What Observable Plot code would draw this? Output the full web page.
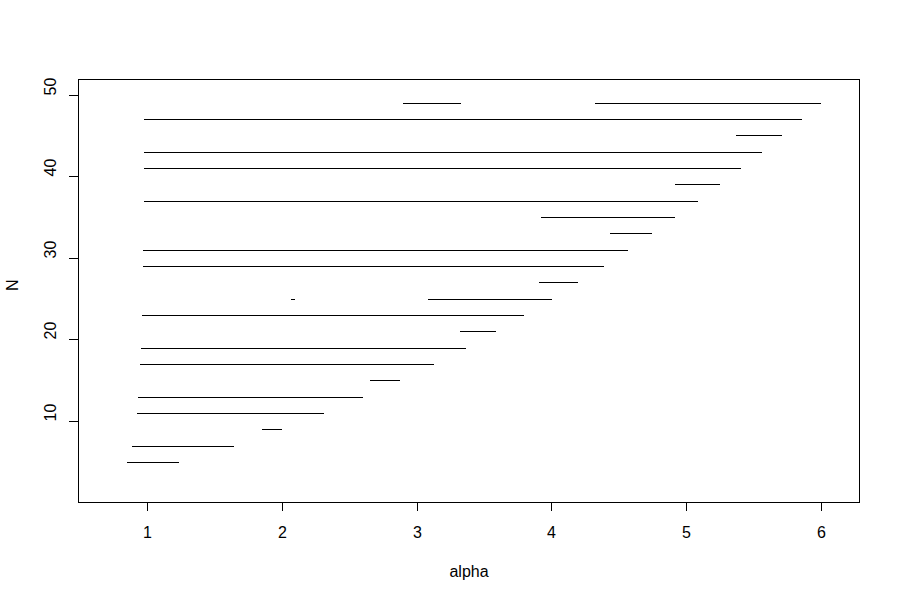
<!DOCTYPE html>
<html>
<head>
<meta charset="utf-8">
<script src="https://cdn.jsdelivr.net/npm/d3@7"></script>
<script src="https://cdn.jsdelivr.net/npm/@observablehq/plot@0.6"></script>
<style>
  html, body { margin: 0; padding: 0; background: #fff; }
  #chart svg { display: block; }
</style>
</head>
<body>
<div id="chart"></div>
<script>
// Segment data
const N          = [5, 7, 9, 11, 13, 15, 17, 19, 21, 23, 25, 25, 27, 29, 31, 33, 35, 37, 39, 41, 43, 45, 47, 49, 49];
const alphaStart = [0.845, 0.883, 1.851, 0.920, 0.927, 2.651, 0.942, 0.950, 3.322, 0.957, 2.064, 3.082, 3.906, 0.964, 0.964, 4.434, 3.921, 0.974, 4.917, 0.974, 0.974, 5.370, 0.974, 2.896, 4.325];
const alphaEnd   = [1.237, 1.646, 2.002, 2.314, 2.604, 2.874, 3.126, 3.364, 3.585, 3.793, 2.094, 4.003, 4.196, 4.388, 4.565, 4.746, 4.919, 5.088, 5.251, 5.407, 5.563, 5.712, 5.858, 3.327, 6.001];

const xTicks = [1, 2, 3, 4, 5, 6];
const yTicks = [10, 20, 30, 40, 50];
const xLabel = "alpha";
const yLabel = "N";

const segs = N.map((n, i) => ({N: n, a0: alphaStart[i], a1: alphaEnd[i]}));

const font = "Liberation Sans, Arial, sans-serif";

const chart = Plot.plot({
  width: 900,
  height: 600,
  marginLeft: 78,
  marginRight: 41,
  marginTop: 79,
  marginBottom: 98,
  style: {fontFamily: font, fontSize: "16px", background: "white", color: "black"},
  x: {domain: [0.484, 6.284], round: true},
  y: {domain: [0.08, 51.92], round: true},
  marks: [
    Plot.ruleY(segs, {y: "N", x1: "a0", x2: "a1", stroke: "black", strokeWidth: 1}),
    Plot.frame({stroke: "black", strokeWidth: 1}),
    Plot.axisX({ticks: xTicks, tickSize: 9, tickPadding: 15, label: null, fontSize: 16, tickFormat: d => String(d)}),
    Plot.axisY({ticks: yTicks, tickSize: 9, label: null, tickFormat: () => ""}),
    Plot.text(yTicks, {y: d => d, text: d => String(d), frameAnchor: "left", dx: -28, rotate: -90, fontSize: 16, fill: "black", lineAnchor: "middle"}),
    Plot.text([xLabel], {text: d => d, frameAnchor: "bottom", dy: 69, fontSize: 16, fill: "black", lineAnchor: "middle"}),
    Plot.text([yLabel], {text: d => d, frameAnchor: "left", dx: -66, rotate: -90, fontSize: 16, fill: "black", lineAnchor: "middle"})
  ]
});
document.getElementById("chart").appendChild(chart);
</script>
</body>
</html>
